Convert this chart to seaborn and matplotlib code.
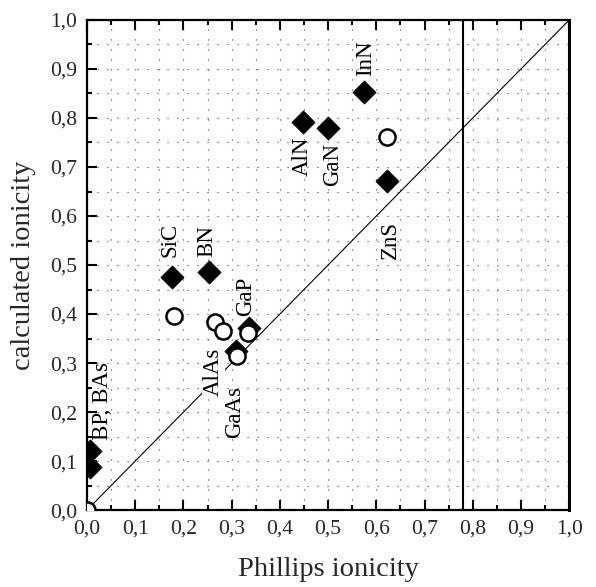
import matplotlib
matplotlib.use("Agg")
import matplotlib.pyplot as plt
import seaborn as sns
import pandas as pd
from matplotlib.ticker import MultipleLocator

# ---- data ----
diamond_x = [0.006, 0.006, 0.176, 0.254, 0.447, 0.499, 0.575, 0.622, 0.335, 0.310]
diamond_y = [0.120, 0.088, 0.475, 0.486, 0.792, 0.779, 0.854, 0.671, 0.372, 0.325]

circle_x = [0.000, 0.180, 0.265, 0.281, 0.334, 0.312, 0.623]
circle_y = [0.000, 0.396, 0.384, 0.366, 0.362, 0.314, 0.762]

label_text = ["BP, BAs", "SiC", "BN", "AlAs", "GaAs", "GaP", "AlN", "GaN", "InN", "ZnS"]
label_x = [0.033, 0.173, 0.249, 0.262, 0.307, 0.329, 0.447, 0.510, 0.577, 0.629]
label_y = [0.222, 0.551, 0.549, 0.283, 0.200, 0.437, 0.722, 0.706, 0.922, 0.551]

diag_x = [0.0, 1.0]
diag_y = [0.0, 1.0]
phillips_limit = 0.78

tick_vals = [0.0, 0.1, 0.2, 0.3, 0.4, 0.5, 0.6, 0.7, 0.8, 0.9, 1.0]
tick_labels = ["0,0", "0,1", "0,2", "0,3", "0,4", "0,5", "0,6", "0,7", "0,8", "0,9", "1,0"]

xlabel = "Phillips ionicity"
ylabel = "calculated ionicity"

# ---- style ----
sns.set_style("ticks")
plt.rcParams["font.family"] = ["Liberation Serif", "DejaVu Serif"]

fig = plt.figure(figsize=(5.96, 5.87), dpi=100)
ax = fig.add_axes([0.146, 0.131, 0.809, 0.835])

df_d = pd.DataFrame({"x": diamond_x, "y": diamond_y})
df_c = pd.DataFrame({"x": circle_x, "y": circle_y})
df_l = pd.DataFrame({"x": diag_x, "y": diag_y})

sns.lineplot(data=df_l, x="x", y="y", ax=ax, color="black", linewidth=0.8, zorder=2)
ax.axvline(phillips_limit, color="black", linewidth=1.5, zorder=2)

sns.scatterplot(data=df_d, x="x", y="y", ax=ax, marker="D", s=140,
                color="black", edgecolor="black", linewidth=0.5, zorder=4)
sns.scatterplot(data=df_c, x="x", y="y", ax=ax, marker="o", s=135,
                facecolor="white", edgecolor="black", linewidth=1.8, zorder=5)

for t, x, y in zip(label_text, label_x, label_y):
    kw = {}
    if t == "AlAs":
        kw["bbox"] = dict(facecolor="white", edgecolor="none", pad=0.5)
    ax.text(x, y, t, rotation=90, ha="center", va="center", fontsize=16.5,
            color="black", zorder=3, **kw)

ax.set_xlim(0, 1)
ax.set_ylim(0, 1)
ax.set_xticks(tick_vals)
ax.set_xticklabels(tick_labels)
ax.set_yticks(tick_vals)
ax.set_yticklabels(tick_labels)
ax.xaxis.set_minor_locator(MultipleLocator(0.05))
ax.yaxis.set_minor_locator(MultipleLocator(0.05))

ax.grid(which="both", color="#444444", linestyle=(0, (1, 8)), linewidth=0.8)
ax.set_axisbelow(True)

ax.tick_params(which="both", direction="in", top=True, bottom=True,
               left=True, right=False, labelsize=15.5, color="black", pad=7)
ax.tick_params(which="major", length=7, width=1.5)
ax.tick_params(which="minor", length=3.5, width=1.5)

for side, sp in ax.spines.items():
    sp.set_visible(True)
    sp.set_linewidth(1.6)
    sp.set_color("black")
ax.spines["right"].set_linewidth(2.2)

ax.set_xlabel(xlabel, fontsize=20.5, labelpad=13)
ax.set_ylabel(ylabel, fontsize=20.5, labelpad=10)

fig.savefig("out.png", dpi=100)
